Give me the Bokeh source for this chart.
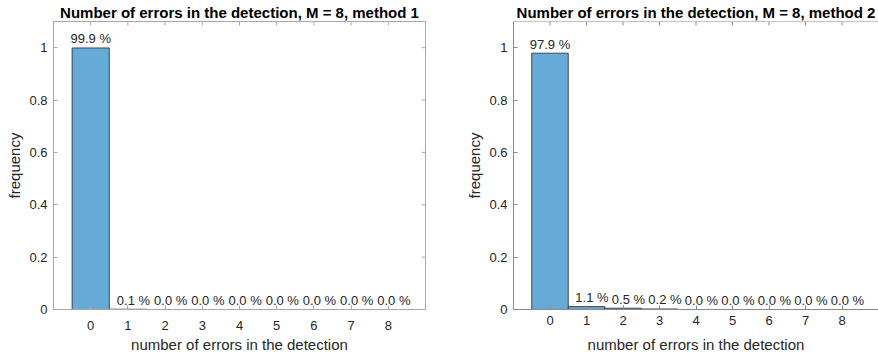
from bokeh.plotting import figure
from bokeh.layouts import row
from bokeh.models import FixedTicker, CustomJSTickFormatter, Range1d, ColumnDataSource, Title
from bokeh.embed import file_html
from bokeh.resources import INLINE

# ---- data ----
bins = [0, 1, 2, 3, 4, 5, 6, 7, 8]
freq_method1 = [0.999, 0.001, 0.0, 0.0, 0.0, 0.0, 0.0, 0.0, 0.0]
freq_method2 = [0.979, 0.011, 0.005, 0.002, 0.0, 0.0, 0.0, 0.0, 0.0]
y_ticks = [0, 0.2, 0.4, 0.6, 0.8, 1]
titles = ["Number of errors in the detection, M = 8, method 1",
          "Number of errors in the detection, M = 8, method 2"]
x_label = "number of errors in the detection"
y_label = "frequency"

FONT = "Liberation Sans"
BAR_FILL = "#66AAD7"
BAR_EDGE = "#262626"
TEXT_COL = "#262626"


def make_plot(freqs, title, width, height, mb_left, mb_right, mb_top, mb_bottom,
              axis_col, right_box, tick_standoff, xlabel_standoff):
    p = figure(width=width, height=height, output_backend="svg", toolbar_location=None,
               x_range=Range1d(-1, 9), y_range=Range1d(0, 1.1),
               min_border_left=mb_left, min_border_right=mb_right,
               min_border_top=mb_top, min_border_bottom=mb_bottom)
    p.title = Title(text=title, align="center", text_font=FONT, text_font_size="15px",
                    text_font_style="bold", text_color="#000000", standoff=2, offset=0)
    p.outline_line_color = axis_col if right_box else None
    p.xgrid.visible = False
    p.ygrid.visible = False

    src = ColumnDataSource(dict(
        left=[b - 0.5 for b in bins], right=[b + 0.5 for b in bins],
        top=freqs, bottom=[0] * len(bins)))
    p.quad(left="left", right="right", top="top", bottom="bottom", source=src,
           fill_color=BAR_FILL, line_color=BAR_EDGE, line_width=0.8)

    lab = ColumnDataSource(dict(
        x=[b + (0.15 if b > 0 else 0.0) for b in bins],
        y=[f + 0.035 for f in freqs],
        t=[f"{f * 100:.1f} %" for f in freqs]))
    p.text(x="x", y="y", text="t", source=lab, text_align="center",
           text_baseline="middle", text_font_size="13px", text_color=TEXT_COL,
           text_font={"value": FONT})

    ymax = p.y_range.end
    p.segment(x0=bins, x1=bins, y0=[ymax] * len(bins), y1=[ymax - 0.015] * len(bins),
              line_color=axis_col, line_width=1)
    if right_box:
        p.segment(x0=[9] * len(y_ticks), x1=[8.9] * len(y_ticks), y0=y_ticks, y1=y_ticks,
                  line_color=axis_col, line_width=1)
    else:
        p.segment(x0=[-1], x1=[9], y0=[ymax], y1=[ymax], line_color=axis_col, line_width=1)

    for ax in (p.xaxis, p.yaxis):
        ax.axis_line_color = axis_col
        ax.major_tick_line_color = axis_col
        ax.major_tick_in = 4
        ax.major_tick_out = 0
        ax.minor_tick_line_color = None
        ax.major_label_text_font = FONT
        ax.major_label_text_font_size = "13px"
        ax.major_label_text_color = TEXT_COL
        ax.axis_label_text_font = FONT
        ax.axis_label_text_font_size = "15px"
        ax.axis_label_text_font_style = "normal"
        ax.axis_label_text_color = TEXT_COL

    p.xaxis.ticker = FixedTicker(ticks=bins)
    p.yaxis.ticker = FixedTicker(ticks=y_ticks)
    p.yaxis.formatter = CustomJSTickFormatter(code="return tick.toString();")
    p.xaxis.major_label_standoff = tick_standoff
    p.yaxis.major_label_standoff = 6
    p.xaxis.axis_label = x_label
    p.yaxis.axis_label = y_label
    p.xaxis.axis_label_standoff = xlabel_standoff
    p.yaxis.axis_label_standoff = 3
    return p


p1 = make_plot(freq_method1, titles[0], 440, 358, 53, 15, 14, 47, "#a8a8a8", True, 11, 3)
p2 = make_plot(freq_method2, titles[1], 438, 358, 73, 0, 14, 49, "#8a8a8a", False, 6, 8)

layout = row(p1, p2)
open("out.html", "w").write(file_html(layout, INLINE))
